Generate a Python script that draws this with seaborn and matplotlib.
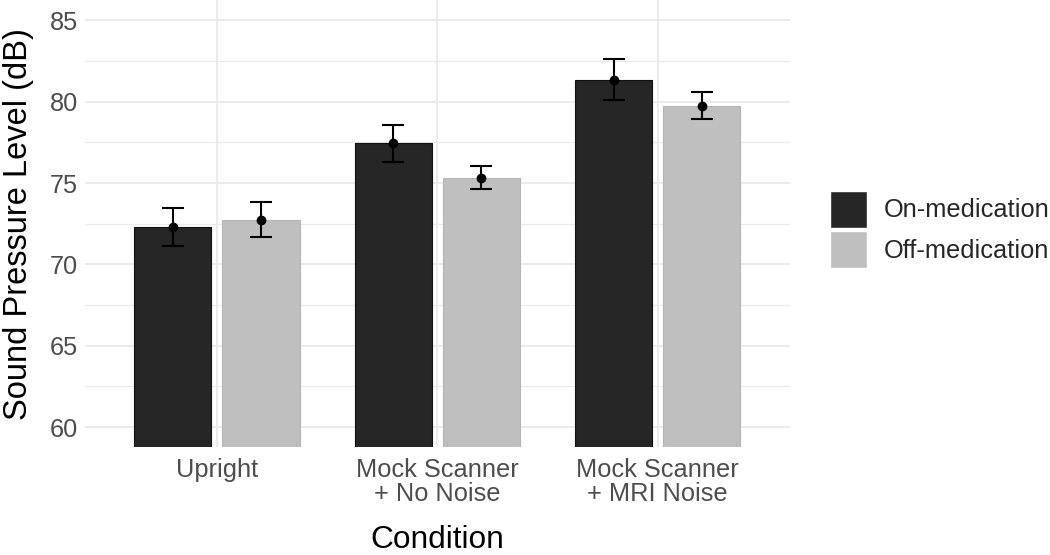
import matplotlib
matplotlib.use("Agg")
import matplotlib.pyplot as plt
from matplotlib.ticker import MultipleLocator
import numpy as np
import pandas as pd
import seaborn as sns

# values
conditions = ["Upright", "Mock Scanner\n+ No Noise", "Mock Scanner\n+ MRI Noise"]
groups = ["On-medication", "Off-medication"]
on_mean = [72.27, 77.43, 81.33]
on_lo = [71.11, 76.29, 80.09]
on_hi = [73.46, 78.59, 82.64]
off_mean = [72.73, 75.33, 79.72]
off_lo = [71.69, 74.61, 78.92]
off_hi = [73.81, 76.07, 80.60]

DARK = "#262626"
LIGHT = "#BFBFBF"
GRID = "#EBEBEB"


def main():
    sns.set_theme(style="whitegrid")
    plt.rcParams["font.family"] = ["Liberation Sans", "DejaVu Sans"]

    df = pd.DataFrame({
        "Condition": conditions * 2,
        "group": [groups[0]] * 3 + [groups[1]] * 3,
        "spl": on_mean + off_mean,
    })

    fig = plt.figure(figsize=(10.5, 5.55), dpi=100)
    ax = fig.add_axes([0.0807, 0.1939, 0.6717, 0.8061])

    sns.barplot(data=df, x="Condition", y="spl", hue="group", order=conditions,
                hue_order=groups, palette=[DARK, LIGHT], width=0.8, gap=0.125,
                errorbar=None, saturation=1, ax=ax)

    edges = ["#111111", "#B5B5B5"]
    err = [(on_mean, on_lo, on_hi), (off_mean, off_lo, off_hi)]
    for cont, ec, (m, lo, hi) in zip(ax.containers, edges, err):
        for bar, mv, l, h in zip(cont, m, lo, hi):
            bar.set_edgecolor(ec)
            bar.set_linewidth(0.8)
            x = bar.get_x() + bar.get_width() / 2
            ax.errorbar(x, mv, yerr=[[mv - l], [h - mv]], fmt="o", color="black",
                        markersize=6, elinewidth=1.5, capsize=8, capthick=1.5,
                        zorder=5)

    ax.set_xlim(-0.6, 2.6)
    ax.set_ylim(58.75, 86.25)
    ax.yaxis.set_major_locator(MultipleLocator(5))
    ax.yaxis.set_minor_locator(MultipleLocator(2.5))
    ax.grid(False)
    ax.yaxis.grid(True, which="major", color=GRID, linewidth=1.5)
    ax.yaxis.grid(True, which="minor", color=GRID, linewidth=0.9)
    ax.xaxis.grid(True, which="major", color=GRID, linewidth=1.5)
    ax.set_axisbelow(True)
    for s in ax.spines.values():
        s.set_visible(False)

    ax.tick_params(axis="both", which="both", length=0, labelsize=18.3,
                   labelcolor="#4D4D4D")
    ax.tick_params(axis="x", pad=7.5)
    ax.tick_params(axis="y", pad=5)
    for t in ax.get_xticklabels():
        t.set_linespacing(1.0)
    ax.set_xlabel("Condition", fontsize=22.8, color="black", labelpad=13.5)
    ax.set_ylabel("Sound Pressure Level (dB)", fontsize=23.5, color="black",
                  labelpad=11)

    handles, labels = ax.get_legend_handles_labels()
    ax.legend(handles, labels, loc="upper left",
              bbox_to_anchor=(830 / 1050, 1 - 190.7 / 555),
              bbox_transform=fig.transFigure, frameon=False, fontsize=18.3,
              borderpad=0, borderaxespad=0, handlelength=1.46, handleheight=1.87,
              labelspacing=0.12, handletextpad=0.67, title=None)

    fig.savefig("out.png", dpi=100)


main()
